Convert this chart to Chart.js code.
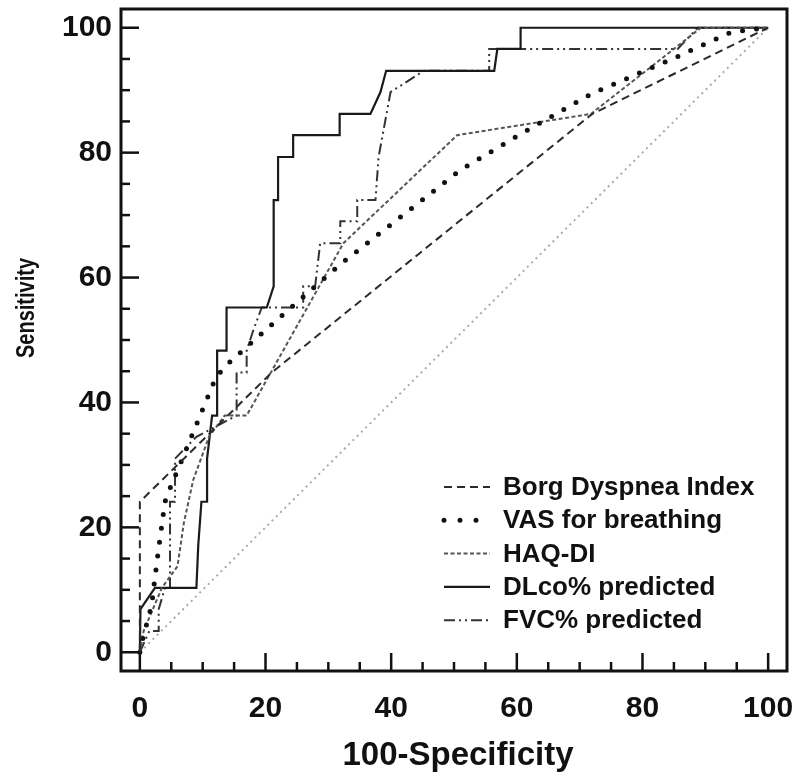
<!DOCTYPE html>
<html>
<head>
<meta charset="utf-8">
<script src="https://cdn.jsdelivr.net/npm/chart.js@4.4.1/dist/chart.umd.min.js"></script>
<style>
  html, body { margin: 0; padding: 0; background: #fff; }
  #wrap { width: 800px; height: 780px; }
</style>
</head>
<body>
<div id="wrap"><canvas id="roc" width="800" height="780"></canvas></div>
<script>
// ===== DATA =====
const seriesNames = ['Borg Dyspnea Index', 'VAS for breathing', 'HAQ-DI', 'DLco% predicted', 'FVC% predicted'];

const borgX = [0, 0, 21, 72, 100];
const borgY = [0, 24.1, 44.8, 86.2, 100];

const vasX = [0, 0.5, 1.9, 2.2, 2.9, 4.0, 4.9, 6.9, 10.0, 12.1, 13.8, 17.8, 21.8, 32.0, 51.0, 60.3, 72.0, 84.3, 94.1, 100];
const vasY = [0, 2.3, 7.6, 10.3, 15.9, 24.1, 26.5, 31.3, 38.9, 44.0, 46.0, 49.6, 53.2, 62.2, 77.2, 82.8, 89.5, 94.8, 99.3, 100];

const haqX = [0, 0.6, 3.5, 6.0, 7.0, 8.5, 11.0, 13.5, 17.0, 32.4, 50.5, 71.8, 89.3, 100];
const haqY = [0, 3.4, 10.3, 13.8, 20.7, 27.6, 34.5, 37.9, 37.9, 65.5, 82.8, 86.2, 100, 100];

const dlcoX = [0, 0.1, 2.4, 9.0, 9.3, 9.8, 10.7, 10.7, 11.5, 12.3, 12.3, 13.8, 13.8, 20.2, 21.3, 21.3, 22.0, 22.0, 24.4, 24.4, 31.8, 31.8, 36.7, 38.3, 39.2, 56.4, 56.9, 60.6, 60.6, 100];
const dlcoY = [0, 6.9, 10.3, 10.3, 17.2, 24.1, 24.1, 31.0, 37.9, 37.9, 48.3, 48.3, 55.2, 55.2, 58.6, 72.4, 72.4, 79.3, 79.3, 82.8, 82.8, 86.2, 86.2, 89.7, 93.1, 93.1, 96.6, 96.6, 100, 100];

const fvcX = [0, 1.5, 3.0, 3.0, 4.0, 4.8, 4.8, 5.6, 5.6, 9.0, 15.4, 15.4, 17.0, 17.0, 18.1, 19.4, 26.0, 26.0, 27.9, 28.7, 31.9, 31.9, 34.6, 34.6, 37.5, 38.0, 39.9, 45.2, 55.6, 55.6, 85.6, 88.8, 100];
const fvcY = [0, 3.4, 3.4, 6.9, 10.3, 10.3, 24.1, 24.1, 31.0, 34.5, 37.9, 44.8, 44.8, 48.3, 51.7, 55.2, 55.2, 58.6, 58.6, 65.5, 65.5, 69.0, 69.0, 72.4, 72.4, 79.3, 89.7, 93.1, 93.1, 96.6, 96.6, 100, 100];

const refX = [0, 100];
const refY = [0, 100];

const majorTicks = [0, 20, 40, 60, 80, 100];
const minorTicks = [5, 10, 15, 25, 30, 35, 45, 50, 55, 65, 70, 75, 85, 90, 95];

// ===== HELPERS =====
const FONT = '"Liberation Sans", Arial, sans-serif';
const pts = (xs, ys) => xs.map((v, i) => ({ x: v, y: ys[i] }));

function rocLine(label, xs, ys, style) {
    return Object.assign({
        label,
        data: pts(xs, ys),
        showLine: true,
        pointRadius: 0,
        pointHoverRadius: 0,
        fill: false,
        tension: 0,
        borderWidth: 2,
        borderColor: '#222'
    }, style);
}

// no label overflow padding: the frame must sit at fixed place
function fixScale(s, size) {
    if (s.isHorizontal()) s.height = size; else s.width = size;
    s.paddingLeft = s.paddingRight = s.paddingTop = s.paddingBottom = 0;
}

// ===== PLUGINS =====
const frameTicks = {
    id: 'frameTicks',
    afterDatasetsDraw(chart) {
        const { ctx, chartArea: a, scales: { x, y } } = chart;
        ctx.save();
        ctx.strokeStyle = '#111';
        ctx.lineWidth = 3;
        ctx.setLineDash([]);
        ctx.strokeRect(a.left, a.top, a.right - a.left, a.bottom - a.top);
        ctx.lineWidth = 2.5;
        const mark = (v, len) => {
            const px = x.getPixelForValue(v);
            ctx.beginPath(); ctx.moveTo(px, a.bottom); ctx.lineTo(px, a.bottom - len); ctx.stroke();
            const py = y.getPixelForValue(v);
            ctx.beginPath(); ctx.moveTo(a.left, py); ctx.lineTo(a.left + len, py); ctx.stroke();
        };
        majorTicks.forEach(v => mark(v, 18));
        minorTicks.forEach(v => mark(v, 9));
        ctx.restore();
    }
};

const insideLegend = {
    id: 'insideLegend',
    afterDatasetsDraw(chart) {
        const ctx = chart.ctx;
        ctx.save();
        ctx.font = 'bold 26px ' + FONT;
        ctx.textBaseline = 'middle';
        ctx.fillStyle = '#111';
        seriesNames.forEach((name, i) => {
            const ds = chart.data.datasets[i];
            const yy = 487 + i * 33.3;
            ctx.strokeStyle = ds.borderColor;
            ctx.lineWidth = ds.borderWidth;
            ctx.lineCap = ds.borderCapStyle || 'butt';
            ctx.setLineDash(ds.legendDash || ds.borderDash || []);
            ctx.beginPath(); ctx.moveTo(444, yy); ctx.lineTo(490, yy); ctx.stroke();
            ctx.fillText(name, 503, yy + 1);
        });
        ctx.restore();
    }
};

const axisTitles = {
    id: 'axisTitles',
    afterDraw(chart) {
        const ctx = chart.ctx;
        ctx.save();
        ctx.fillStyle = '#111';
        ctx.textAlign = 'center';
        ctx.textBaseline = 'alphabetic';
        ctx.font = 'bold 33px ' + FONT;
        ctx.fillText('100-Specificity', 458, 765);
        ctx.translate(34, 308);
        ctx.rotate(-Math.PI / 2);
        ctx.scale(0.8, 1);
        ctx.font = 'bold 25px ' + FONT;
        ctx.fillText('Sensitivity', 0, 0);
        ctx.restore();
    }
};

// ===== CHART =====
const tickFont = { family: FONT, size: 30, weight: 'bold' };

new Chart(document.getElementById('roc'), {
    type: 'scatter',
    data: {
        datasets: [
            rocLine(seriesNames[0], borgX, borgY, { borderColor: '#2a2a2a', borderWidth: 2, borderDash: [8, 5] }),
            rocLine(seriesNames[1], vasX, vasY, { borderColor: '#111', borderWidth: 5, borderDash: [0, 14], borderCapStyle: 'round', legendDash: [0, 16] }),
            rocLine(seriesNames[2], haqX, haqY, { borderColor: '#555', borderWidth: 2, borderDash: [4, 2.5] }),
            rocLine(seriesNames[3], dlcoX, dlcoY, { borderColor: '#1a1a1a', borderWidth: 2.2 }),
            rocLine(seriesNames[4], fvcX, fvcY, { borderColor: '#333', borderWidth: 2, borderDash: [11, 4, 2, 4, 2, 4] }),
            rocLine('reference', refX, refY, { borderColor: '#aaa', borderWidth: 2, borderDash: [2, 4] })
        ]
    },
    options: {
        responsive: false,
        animation: false,
        layout: { padding: { top: 9, right: 13, left: 0, bottom: 0 } },
        plugins: { legend: { display: false }, tooltip: { enabled: false } },
        scales: {
            x: {
                type: 'linear', min: -3, max: 103,
                afterBuildTicks: s => { s.ticks = majorTicks.map(v => ({ value: v })); },
                afterFit: s => fixScale(s, 109),
                grid: { display: false, drawTicks: false },
                border: { display: false },
                ticks: { font: tickFont, color: '#111', padding: 20, maxRotation: 0, autoSkip: false }
            },
            y: {
                type: 'linear', min: -3, max: 103,
                afterBuildTicks: s => { s.ticks = majorTicks.map(v => ({ value: v })); },
                afterFit: s => fixScale(s, 121),
                grid: { display: false, drawTicks: false },
                border: { display: false },
                ticks: { font: tickFont, color: '#111', padding: 9, autoSkip: false }
            }
        }
    },
    plugins: [frameTicks, insideLegend, axisTitles]
});
</script>
</body>
</html>
